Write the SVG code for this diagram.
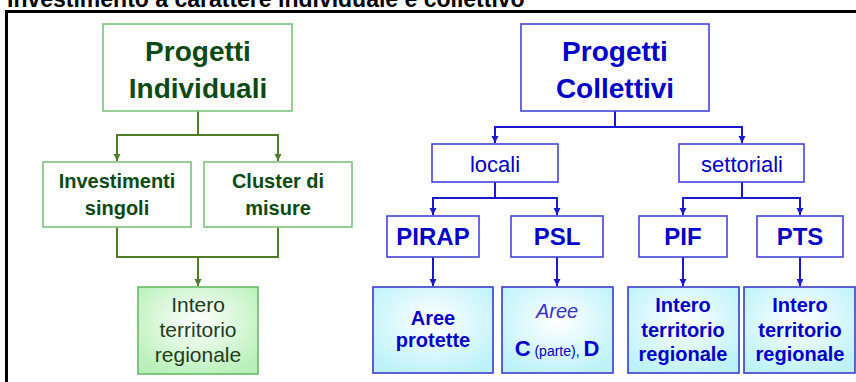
<svg xmlns="http://www.w3.org/2000/svg" width="856" height="382" viewBox="0 0 856 382">
<defs>
<style>
text{font-family:"Liberation Sans",Arial,sans-serif;text-anchor:middle}
.g{fill:#fff;stroke:#7cc27c;stroke-width:1.6}
.gf{fill:url(#gg);stroke:#66bb66;stroke-width:1.6}
.b{fill:#fff;stroke:#4444dd;stroke-width:1.6}
.bf{fill:url(#bg);stroke:#3a3ad0;stroke-width:1.6}
.tg{fill:#0b4a12;font-weight:bold}
.tb{fill:#0000c8;font-weight:bold}
.cg{fill:none;stroke:#4f7d2a;stroke-width:2}
.cb{fill:none;stroke:#1a1acc;stroke-width:2}
</style>
<radialGradient id="gg" cx="50%" cy="40%" r="65%"><stop offset="0" stop-color="#ffffff"/><stop offset="1" stop-color="#b9f0b9"/></radialGradient>
<radialGradient id="bg" cx="50%" cy="40%" r="65%"><stop offset="0" stop-color="#ffffff"/><stop offset="1" stop-color="#bdf2fa"/></radialGradient>
<marker id="ag" markerUnits="userSpaceOnUse" markerWidth="8" markerHeight="8" refX="7" refY="4" orient="auto"><path d="M0,0.5 L7,4 L0,7.5 Z" fill="#4f7d2a"/></marker>
<marker id="ab" markerUnits="userSpaceOnUse" markerWidth="8" markerHeight="8" refX="7" refY="4" orient="auto"><path d="M0,0.5 L7,4 L0,7.5 Z" fill="#1a1acc"/></marker>
</defs>
<rect width="856" height="382" fill="#ffffff"/>
<text x="7" y="7" style="text-anchor:start;font-size:23px;font-weight:bold;fill:#000">Investimento a carattere individuale e collettivo</text>
<rect x="5" y="10" width="851" height="3" fill="#000"/>
<rect x="5" y="10" width="3" height="372" fill="#000"/>

<g id="connectors">
<path class="cg" marker-end="url(#ag)" d="M198 111 V135 H117 V161"/>
<path class="cg" marker-end="url(#ag)" d="M198 135 H278 V161"/>
<path class="cg" d="M117 227 V257 H278 V227"/>
<path class="cg" marker-end="url(#ag)" d="M198 257 V286"/>
<path class="cb" marker-end="url(#ab)" d="M615 111 V127 H495 V143"/>
<path class="cb" marker-end="url(#ab)" d="M615 127 H742 V143"/>
<path class="cb" marker-end="url(#ab)" d="M495 182 V198 H433 V215"/>
<path class="cb" marker-end="url(#ab)" d="M495 198 H557 V215"/>
<path class="cb" marker-end="url(#ab)" d="M742 182 V198 H683 V215"/>
<path class="cb" marker-end="url(#ab)" d="M742 198 H800 V215"/>
<path class="cb" marker-end="url(#ab)" d="M433 257 V286"/>
<path class="cb" marker-end="url(#ab)" d="M557 257 V286"/>
<path class="cb" marker-end="url(#ab)" d="M683 257 V286"/>
<path class="cb" marker-end="url(#ab)" d="M800 257 V286"/>
</g>

<g id="progetti-individuali">
<rect class="g" x="103" y="24" width="189" height="87"/>
<text class="tg" x="198" y="61" font-size="28">Progetti</text>
<text class="tg" x="198" y="98" font-size="28">Individuali</text>
</g>
<g id="investimenti-singoli">
<rect class="g" x="43" y="162" width="148" height="65"/>
<text class="tg" x="117" y="188" font-size="20">Investimenti</text>
<text class="tg" x="117" y="215" font-size="20">singoli</text>
</g>
<g id="cluster-misure">
<rect class="g" x="204" y="162" width="148" height="65"/>
<text class="tg" x="278" y="188" font-size="20">Cluster di</text>
<text class="tg" x="278" y="215" font-size="20">misure</text>
</g>
<g id="intero-individuali">
<rect class="gf" x="138" y="287" width="120" height="87"/>
<text x="198" y="312" font-size="21" fill="#1e3c1e">Intero</text>
<text x="198" y="337" font-size="21" fill="#1e3c1e">territorio</text>
<text x="198" y="362" font-size="21" fill="#1e3c1e">regionale</text>
</g>

<g id="progetti-collettivi">
<rect class="b" x="521" y="24" width="188" height="87"/>
<text class="tb" x="615" y="61" font-size="28">Progetti</text>
<text class="tb" x="615" y="98" font-size="28">Collettivi</text>
</g>
<g id="locali">
<rect class="b" x="432" y="144" width="126" height="38"/>
<text x="495" y="172" font-size="22" fill="#0000c8">locali</text>
</g>
<g id="settoriali">
<rect class="b" x="679" y="144" width="125" height="38"/>
<text x="742" y="172" font-size="22" fill="#0000c8">settoriali</text>
</g>
<g id="pirap">
<rect class="b" x="387" y="216" width="92" height="41"/>
<text class="tb" x="433" y="245" font-size="24">PIRAP</text>
</g>
<g id="psl">
<rect class="b" x="511" y="216" width="92" height="41"/>
<text class="tb" x="557" y="245" font-size="24">PSL</text>
</g>
<g id="pif">
<rect class="b" x="639" y="216" width="88" height="41"/>
<text class="tb" x="683" y="245" font-size="24">PIF</text>
</g>
<g id="pts">
<rect class="b" x="757" y="216" width="86" height="41"/>
<text class="tb" x="800" y="245" font-size="24">PTS</text>
</g>
<g id="aree-protette">
<rect class="bf" x="373" y="287" width="120" height="86"/>
<text class="tb" x="433" y="325" font-size="20">Aree</text>
<text class="tb" x="433" y="347" font-size="20">protette</text>
</g>
<g id="aree-cd">
<rect class="bf" x="502" y="287" width="111" height="86"/>
<text x="557" y="318" font-size="20" font-style="italic" fill="#3535c8">Aree</text>
<text x="557" y="356" fill="#0000c8"><tspan font-size="22" font-weight="bold">C</tspan><tspan font-size="14"> (parte), </tspan><tspan font-size="22" font-weight="bold">D</tspan></text>
</g>
<g id="intero-pif">
<rect class="bf" x="628" y="287" width="111" height="86"/>
<text class="tb" x="683" y="312" font-size="20">Intero</text>
<text class="tb" x="683" y="337" font-size="20">territorio</text>
<text class="tb" x="683" y="361" font-size="20">regionale</text>
</g>
<g id="intero-pts">
<rect class="bf" x="744" y="287" width="111" height="86"/>
<text class="tb" x="800" y="312" font-size="20">Intero</text>
<text class="tb" x="800" y="337" font-size="20">territorio</text>
<text class="tb" x="800" y="361" font-size="20">regionale</text>
</g>
</svg>
